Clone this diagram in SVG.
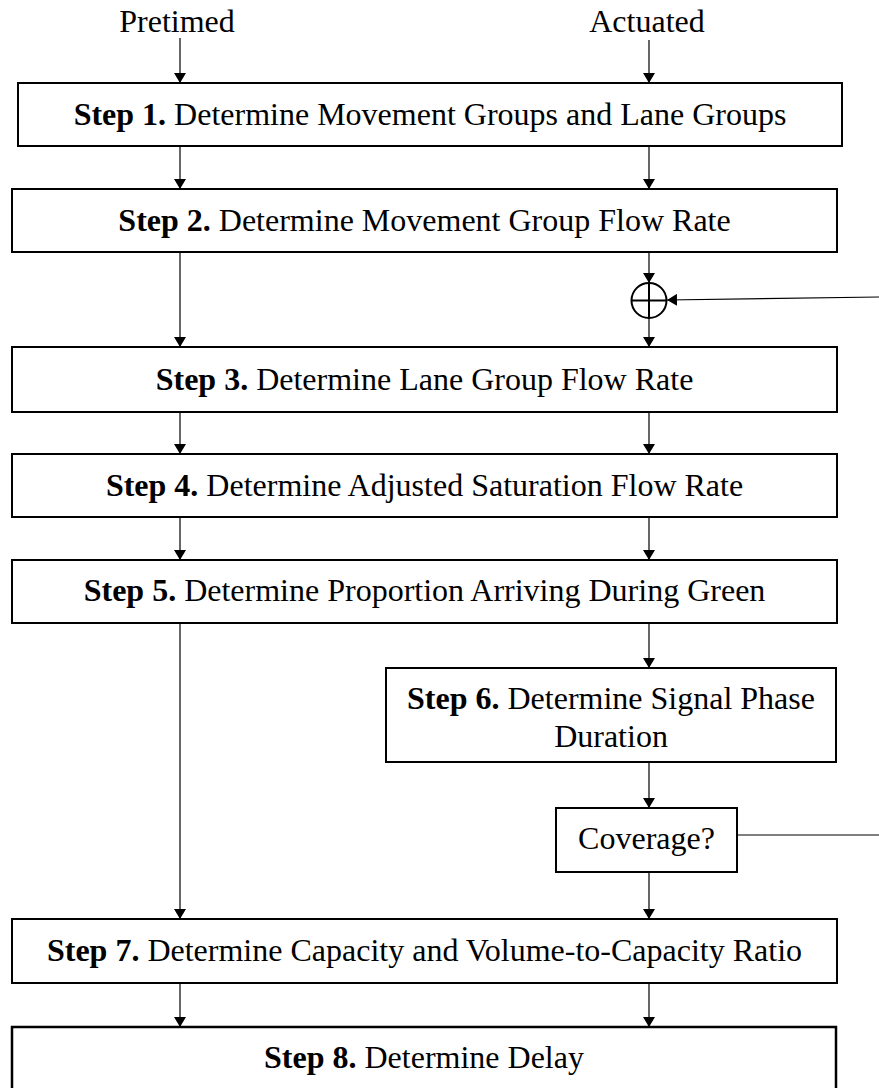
<svg xmlns="http://www.w3.org/2000/svg" width="879" height="1088" viewBox="0 0 879 1088">
<style>
.box{fill:#fff;stroke:#000;stroke-width:2}
.ln{fill:none;stroke:#000;stroke-width:1.2}
text{font-family:"Liberation Serif","Times New Roman",serif;font-size:32px;fill:#000;text-anchor:middle}
.b{font-weight:bold}
</style>
<defs>
<marker id="ah" viewBox="0 0 10 12" refX="10" refY="6" markerWidth="10" markerHeight="12" orient="auto" markerUnits="userSpaceOnUse">
<path d="M0,0 L10,6 L0,12 z" fill="#000"/>
</marker>
</defs>
<rect width="879" height="1088" fill="#fff"/>
<g id="labels">
<text x="177" y="32">Pretimed</text>
<text x="647" y="32">Actuated</text>
</g>
<g id="connectors" class="conn">
<line class="ln" x1="180" y1="38" x2="180" y2="83" marker-end="url(#ah)"/>
<line class="ln" x1="180" y1="146" x2="180" y2="189" marker-end="url(#ah)"/>
<line class="ln" x1="180" y1="252" x2="180" y2="347" marker-end="url(#ah)"/>
<line class="ln" x1="180" y1="412" x2="180" y2="454" marker-end="url(#ah)"/>
<line class="ln" x1="180" y1="517" x2="180" y2="560" marker-end="url(#ah)"/>
<line class="ln" x1="180" y1="623" x2="180" y2="919" marker-end="url(#ah)"/>
<line class="ln" x1="180" y1="983" x2="180" y2="1027" marker-end="url(#ah)"/>
<line class="ln" x1="649" y1="40" x2="649" y2="83" marker-end="url(#ah)"/>
<line class="ln" x1="649" y1="146" x2="649" y2="189" marker-end="url(#ah)"/>
<line class="ln" x1="649" y1="252" x2="649" y2="283" marker-end="url(#ah)"/>
<line class="ln" x1="649" y1="318" x2="649" y2="347" marker-end="url(#ah)"/>
<line class="ln" x1="649" y1="412" x2="649" y2="454" marker-end="url(#ah)"/>
<line class="ln" x1="649" y1="517" x2="649" y2="560" marker-end="url(#ah)"/>
<line class="ln" x1="649" y1="623" x2="649" y2="668" marker-end="url(#ah)"/>
<line class="ln" x1="649" y1="762" x2="649" y2="808" marker-end="url(#ah)"/>
<line class="ln" x1="649" y1="872" x2="649" y2="919" marker-end="url(#ah)"/>
<line class="ln" x1="649" y1="983" x2="649" y2="1027" marker-end="url(#ah)"/>
<line class="ln" x1="879" y1="297" x2="667" y2="300" marker-end="url(#ah)"/>
<line class="ln" x1="737" y1="835" x2="879" y2="835"/>
</g>
<g id="sum">
<circle cx="649" cy="300.5" r="17.5" fill="none" stroke="#000" stroke-width="2"/>
<line x1="631.5" y1="300.5" x2="666.5" y2="300.5" stroke="#000" stroke-width="2"/>
<line x1="649" y1="283" x2="649" y2="318" stroke="#000" stroke-width="2"/>
</g>
<g id="step1">
<rect class="box" x="18" y="83" width="824" height="63"/>
<text x="430" y="125"><tspan class="b">Step 1.</tspan> Determine Movement Groups and Lane Groups</text>
</g>
<g id="step2">
<rect class="box" x="12" y="189" width="825" height="63"/>
<text x="424.5" y="231"><tspan class="b">Step 2.</tspan> Determine Movement Group Flow Rate</text>
</g>
<g id="step3">
<rect class="box" x="12" y="347" width="825" height="65"/>
<text x="424.5" y="390"><tspan class="b">Step 3.</tspan> Determine Lane Group Flow Rate</text>
</g>
<g id="step4">
<rect class="box" x="12" y="454" width="825" height="63"/>
<text x="424.5" y="496"><tspan class="b">Step 4.</tspan> Determine Adjusted Saturation Flow Rate</text>
</g>
<g id="step5">
<rect class="box" x="12" y="560" width="825" height="63"/>
<text x="424.5" y="601"><tspan class="b">Step 5.</tspan> Determine Proportion Arriving During Green</text>
</g>
<g id="step6">
<rect class="box" x="386" y="668" width="450" height="94"/>
<text x="611" y="709"><tspan class="b">Step 6.</tspan> Determine Signal Phase</text>
<text x="611" y="747">Duration</text>
</g>
<g id="coverage">
<rect class="box" x="556" y="808" width="181" height="64"/>
<text x="646.5" y="849">Coverage?</text>
</g>
<g id="step7">
<rect class="box" x="12" y="919" width="825" height="64"/>
<text x="424.5" y="961"><tspan class="b">Step 7.</tspan> Determine Capacity and Volume-to-Capacity Ratio</text>
</g>
<g id="step8">
<rect class="box" x="12" y="1027" width="824" height="66" style="stroke-width:2.5"/>
<text x="424" y="1068"><tspan class="b">Step 8.</tspan> Determine Delay</text>
</g>
</svg>
